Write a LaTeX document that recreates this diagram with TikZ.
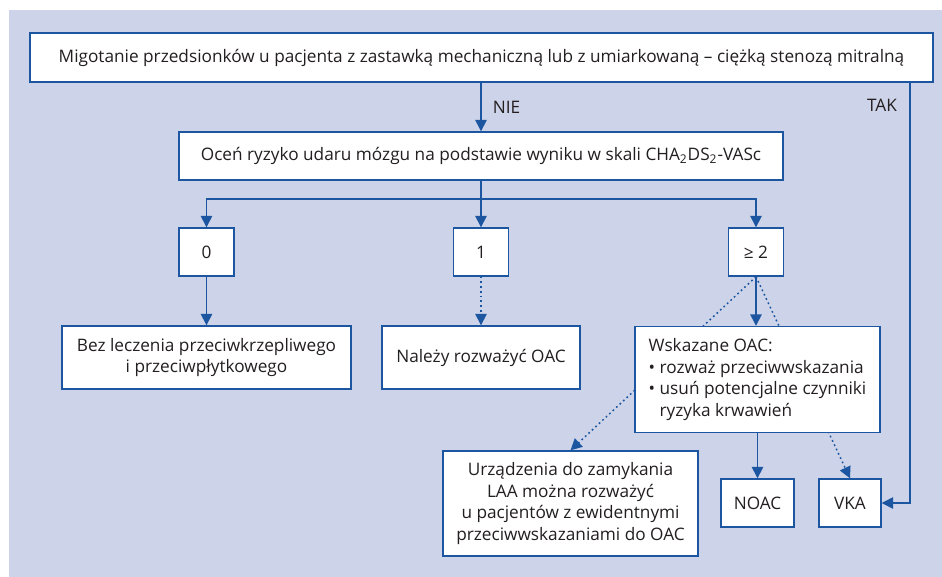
\documentclass[tikz,border=0pt]{standalone}
\usepackage{fontspec}
\setmainfont{Open Sans}
\usepackage{tikz}
\usetikzlibrary{arrows.meta}
\definecolor{bg}{HTML}{CDD3E8}
\definecolor{flow}{HTML}{1C56A0}
\definecolor{txt}{HTML}{231F20}
\tikzset{
  box/.style={draw=flow, line width=0.8pt, fill=white, text=txt, inner sep=0pt,
    align=center, font=\fontsize{9.8}{12.3}\selectfont},
  arr/.style={draw=flow, line width=0.85pt, -{Triangle[width=6.5pt,length=6.5pt]}},
  dotarr/.style={arr, dash pattern=on 1pt off 1.7pt},
  lab/.style={text=txt, font=\fontsize{9.8}{12}\selectfont}
}

\begin{document}
\begin{tikzpicture}[x=0.02cm,y=-0.02cm]
  \useasboundingbox (0,0) rectangle (942,577);
  \fill[bg] (9,10) rectangle (942,577);

  % question and score
  \node[box, minimum width=18.06cm, minimum height=0.98cm] (start) at (481.5,57.5)
    {Migotanie przedsionków u pacjenta z zastawką mechaniczną lub z umiarkowaną – ciężką stenozą mitralną};
  \node[box, minimum width=12.08cm, minimum height=0.96cm] (score) at (481,156)
    {Oceń ryzyko udaru mózgu na podstawie wyniku w skali CHA\textsubscript{2}DS\textsubscript{2}-VASc};

  \draw[arr] (start.south -| score.north) -- node[lab, right=3pt] {NIE} (score.north);

  % score classes
  \node[box, minimum width=1.1cm, minimum height=0.96cm] (s0) at (206.5,252) {0};
  \node[box, minimum width=1.1cm, minimum height=0.96cm] (s1) at (481,252) {1};
  \node[box, minimum width=1.1cm, minimum height=0.96cm] (s2) at (756,252) {≥ 2};

  \coordinate (br) at (0,199);
  \draw[arr] (score.south) -- (score.south |- br) -| (s0.north);
  \draw[arr] (score.south) -- (score.south |- br) -| (s2.north);
  \draw[arr] (score.south) -- (s1.north);

  % decisions
  \node[box, minimum width=5.78cm, minimum height=1.26cm] (none) at (206.5,357.5)
    {Bez leczenia przeciwkrzepliwego\\ i przeciwpłytkowego};
  \node[box, minimum width=3.96cm, minimum height=1.26cm] (consider) at (481,357.5)
    {Należy rozważyć OAC};
  \node[box, minimum width=5.1cm, minimum height=2.1cm] (laa) at (570.5,503.5)
    {Urządzenia do zamykania\\ LAA można rozważyć\\ u pacjentów z ewidentnymi\\ przeciwwskazaniami do OAC};
  \node[box, minimum width=1.46cm, minimum height=0.96cm] (noac) at (757.5,503) {NOAC};
  \node[box, minimum width=1.24cm, minimum height=0.96cm] (vka) at (850,503) {VKA};

  \draw[arr] (s0.south) -- (none.north);
  \draw[dotarr] (s1.south) -- (consider.north);
  % dotted paths run behind the OAC box
  \draw[dotarr] (s2.south) -- (laa.north);
  \draw[dotarr] (s2.south) -- (vka.north);

  \node[box, align=left, minimum width=4.9cm, minimum height=2.12cm] (oac) at (757.5,379.5)
    {Wskazane OAC:\\
     \textbullet\ rozważ przeciwwskazania\\
     \textbullet\ usuń potencjalne czynniki\\
     \phantom{\textbullet\ }ryzyka krwawień};

  \draw[arr] (s2.south) -- (s2.south |- oac.north);
  \draw[arr] (oac.south -| noac.north) -- (noac.north);

  % TAK branch
  \coordinate (tak) at (910,0);
  \draw[arr] (start.south -| tak) |- (vka.east);
  \node[lab] (taklab) at (882,105) {TAK};
\end{tikzpicture}
\end{document}
